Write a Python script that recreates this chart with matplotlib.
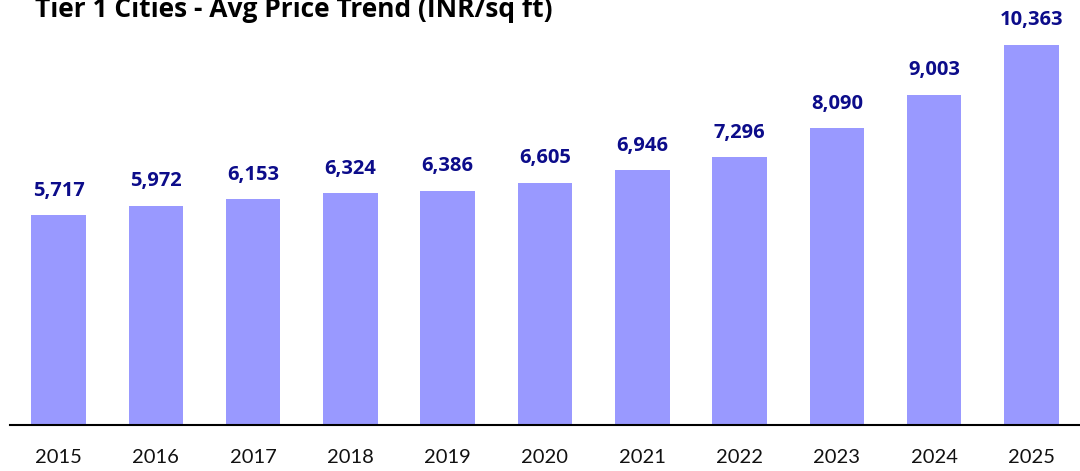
import matplotlib
matplotlib.use("Agg")
import matplotlib.pyplot as plt

years = ["2015", "2016", "2017", "2018", "2019", "2020", "2021", "2022", "2023", "2024", "2025"]
prices = [5717, 5972, 6153, 6324, 6386, 6605, 6946, 7296, 8090, 9003, 10363]

plt.rcParams['font.family'] = ['Lato', 'DejaVu Sans']

fig = plt.figure(figsize=(10.8, 4.71), dpi=100)
ax = fig.add_axes([10/1080, 46/471, 1 - 10/1080, 425/471])

x = range(len(years))
bars = ax.bar(x, prices, width=0.56, color="#9999FF")
ax.set_xlim(-0.5, len(years) - 0.5)
ax.set_ylim(0, 11590)

for s in ["top", "right", "left"]:
    ax.spines[s].set_visible(False)
ax.spines["bottom"].set_linewidth(1.5)
ax.spines["bottom"].set_color("black")
ax.set_yticks([])
ax.set_xticks(list(x))
ax.set_xticklabels(years, fontsize=14.5, color="#111111")
ax.tick_params(axis="x", length=0, pad=17)

for xi, v in zip(x, prices):
    ax.annotate(f"{v:,}", (xi, v), xytext=(0, 10.5), textcoords="offset points",
                ha="center", va="bottom", fontsize=14.5, fontweight="bold", color="#0C0C8A",
                family=["Open Sans", "DejaVu Sans"])

fig.text(35/1080, 1.0 + 4/471, "Tier 1 Cities - Avg Price Trend (INR/sq ft)", fontsize=19,
         fontweight="bold", ha="left", va="top", color="black",
         family=["Open Sans", "DejaVu Sans"])

fig.savefig("out.png", dpi=100)
